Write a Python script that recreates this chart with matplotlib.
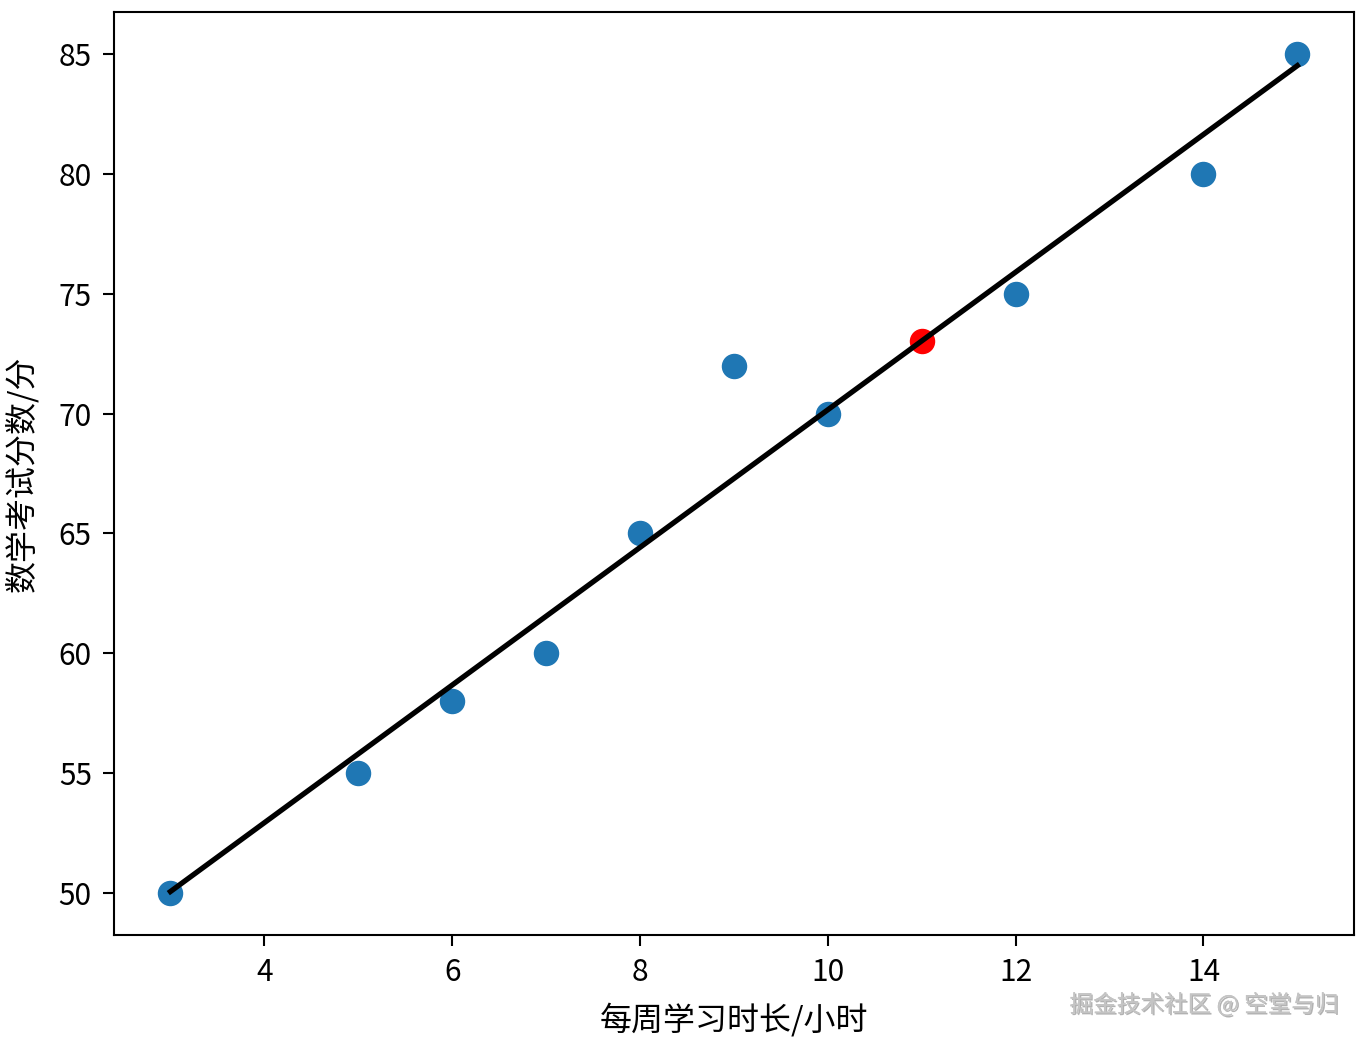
import matplotlib
matplotlib.use("Agg")
import matplotlib.pyplot as plt
import matplotlib.patheffects as pe
import numpy as np

plt.rcParams['font.family'] = ['Noto Sans CJK SC', 'DejaVu Sans']
plt.rcParams['axes.unicode_minus'] = False

hours = [3, 5, 6, 7, 8, 9, 10, 12, 14, 15]
scores = [50, 55, 58, 60, 65, 72, 70, 75, 80, 85]
new_hours = [11]
xlabel = '每周学习时长/小时'
ylabel = '数学考试分数/分'
watermark = '掘金技术社区 @ 空堂与归'

x = np.array(hours, dtype=float)
y = np.array(scores, dtype=float)
k, b = np.polyfit(x, y, 1)
new_pred = [k * h + b for h in new_hours]

fig = plt.figure(figsize=(13.66, 10.41), dpi=100)
ax = fig.add_axes([0.0835, 0.1018, 0.9075, 0.8867])

ax.scatter(hours, scores, s=300, color='#1f77b4', zorder=2)
ax.scatter(new_hours, new_pred, s=300, color='red', zorder=2)
ax.plot(x, k * x + b, color='black', linewidth=3.8, zorder=3)

ax.set_xlabel(xlabel, fontsize=23, labelpad=10)
ax.set_ylabel(ylabel, fontsize=23, labelpad=14)
ax.tick_params(labelsize=21.5, width=1.5, length=8, pad=8)
for s in ax.spines.values():
    s.set_linewidth(1.5)

fig.text(0.98, 0.035, watermark, ha='right', va='center', fontsize=17,
         color='#c4c4c4',
         path_effects=[pe.withSimplePatchShadow(offset=(1, -1), shadow_rgbFace='#666666', alpha=0.5), pe.Normal()])

fig.savefig('out.png', dpi=100)
